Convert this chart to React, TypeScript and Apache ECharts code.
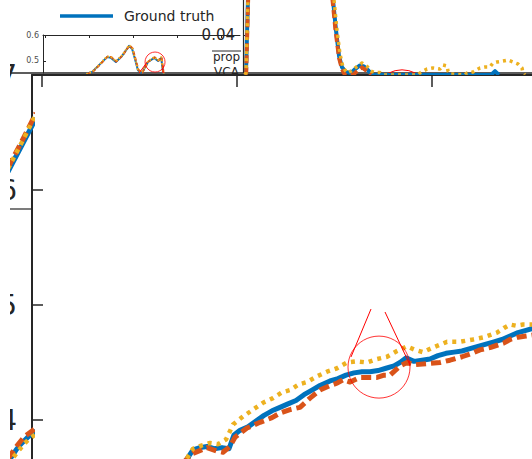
import React, { useEffect, useRef } from 'react';
import * as echarts from 'echarts';

const FONT = 'DejaVu Sans';
const AX = '#262626';
const BLUE = '#0072BD';
const ORANGE = '#D95319';
const YELLOW = '#EDB120';
const RED = '#FF0000';

const legendLabels = ['Ground truth'];
const seriesNames = ['Ground truth', 'VCA', 'prop'];

// axis ticks
const mainXTicks = [10, 205, 400];
const mainYTicks = [4, 5, 6, 7];
const insetXTicks = [1, 2, 3, 4, 5];
const insetYTicks = [0.5, 0.6];
const rightYTicks = [0.04];

// main panel curves [x, y]
const mainTruth = [[148,3.57],[161,3.74],[168,3.76],[175,3.77],[182,3.75],[190,3.76],[197,3.75],[202,3.87],[208,3.91],[216,3.94],[224,3.99],[232,4.04],[240,4.08],[248,4.11],[256,4.14],[264,4.17],[272,4.22],[280,4.26],[288,4.30],[298,4.34],[306,4.36],[314,4.39],[322,4.41],[330,4.42],[338,4.42],[346,4.43],[354,4.45],[362,4.47],[368,4.50],[374,4.54],[382,4.51],[390,4.52],[398,4.53],[406,4.56],[414,4.58],[422,4.59],[430,4.60],[438,4.62],[446,4.64],[454,4.66],[462,4.68],[470,4.70],[478,4.73],[486,4.76],[494,4.78],[502,4.80]];
const mainVCA = [[150,3.62],[161,3.71],[175,3.76],[185,3.73],[191,3.72],[198,3.77],[203,3.85],[215,3.93],[228,3.98],[240,4.02],[248,4.06],[258,4.09],[268,4.11],[278,4.19],[288,4.26],[298,4.30],[305,4.32],[311,4.35],[318,4.33],[328,4.37],[338,4.37],[345,4.37],[352,4.39],[358,4.39],[368,4.47],[375,4.50],[382,4.48],[395,4.49],[408,4.50],[418,4.52],[430,4.55],[440,4.58],[448,4.61],[458,4.63],[465,4.65],[472,4.67],[478,4.70],[486,4.72],[494,4.73],[502,4.74]];
const mainProp = [[150,3.60],[161,3.75],[170,3.78],[178,3.80],[186,3.79],[194,3.83],[201,3.96],[211,4.03],[221,4.09],[231,4.15],[241,4.19],[250,4.24],[258,4.26],[267,4.31],[275,4.33],[285,4.38],[295,4.42],[305,4.45],[315,4.50],[325,4.51],[335,4.50],[345,4.53],[355,4.55],[365,4.60],[375,4.64],[383,4.61],[391,4.59],[401,4.63],[415,4.68],[428,4.68],[441,4.70],[452,4.72],[465,4.76],[472,4.80],[478,4.83],[484,4.82],[491,4.83],[502,4.83]];
const mainZoomCircle = [[347, 4.46]];
const mainZoomLineL = [[339, 4.965], [319, 4.548]];
const mainZoomLineR = [[353, 4.939], [378, 4.478]];

// inset (top-left) curves
const insetTruth = [[1.93,0.45],[2.07,0.458],[2.25,0.488],[2.41,0.515],[2.5,0.512],[2.61,0.496],[2.75,0.519],[2.91,0.558],[2.98,0.546],[3.05,0.504],[3.11,0.465],[3.2,0.454],[3.34,0.496],[3.48,0.512],[3.57,0.5],[3.64,0.512],[3.68,0.458],[3.7,0.446]];
const insetVCA = [[1.95,0.45],[2.09,0.459],[2.27,0.490],[2.42,0.517],[2.51,0.514],[2.62,0.498],[2.76,0.521],[2.92,0.560],[2.99,0.548],[3.06,0.506],[3.12,0.466],[3.21,0.455],[3.35,0.498],[3.49,0.514],[3.58,0.502],[3.65,0.514],[3.69,0.459],[3.71,0.446]];
const insetProp = [[1.94,0.45],[2.08,0.460],[2.26,0.491],[2.41,0.518],[2.5,0.515],[2.61,0.499],[2.75,0.522],[2.91,0.561],[2.98,0.549],[3.05,0.507],[3.11,0.467],[3.2,0.456],[3.34,0.499],[3.48,0.515],[3.57,0.503],[3.64,0.515],[3.68,0.460],[3.7,0.446]];
const insetCircle = [[3.5, 0.496]];
const insetLineL = [[3.14, 0.454], [3.32, 0.496]];
const insetLineR = [[3.68, 0.454], [3.68, 0.481]];

// right (top) panel curves
const rightTruth = [[2,-0.002],[3,0],[5,0.08],[6,0.2],[60,0.3],[88,0.2],[90,0.077],[93,0.045],[96,0.018],[99,0.006],[103,0.001],[108,0],[112,0.004],[117,0.008],[121,0.007],[125,0.003],[129,-0.002],[248,-0.002],[252,0.002],[256,-0.002]];
const rightVCA = [[2,-0.002],[3.2,0],[5.2,0.08],[6,0.2],[60,0.3],[88,0.2],[89.5,0.077],[92.5,0.045],[96,0.016],[99,0.004],[102,-0.002],[110,-0.002],[115,0.003],[119,0.006],[124,0.002],[128,-0.002]];
const rightProp = [[2,-0.002],[3,0],[5,0.08],[6,0.2],[60,0.3],[88,0.2],[91,0.077],[94,0.045],[97,0.02],[100,0.006],[104,0],[108,0.002],[113,0.006],[119,0.0105],[124,0.007],[128,0.002],[132,0.0005],[137,0.0005],[141,-0.002],[175,-0.002],[177,0],[184,0.0042],[190,0.0053],[197,0.0042],[200,0.0084],[204,0.0074],[205,0.0021],[207,-0.001],[222,-0.002],[224,0],[230,0.001],[237,0.0053],[242,0.0063],[247,0.0063],[250,0.0105],[254,0.0116],[260,0.0126],[265,0.0137],[270,0.0116],[275,0.0095],[279,0.0053],[280,0],[282,-0.002]];

// left (hidden) panel curves
const leftTruthA = [[8,6.158],[12,6.226],[22,6.391],[32,6.557],[36,6.626]];
const leftVCAA = [[8,6.193],[12,6.261],[22,6.426],[32,6.600],[36,6.670]];
const leftPropA = [[8,6.184],[12,6.252],[22,6.417],[32,6.591],[36,6.66]];
const leftTruthB = [[8,3.635],[12,3.687],[16,3.739],[20,3.783],[24,3.817],[28,3.852],[32,3.878],[36,3.904]];
const leftVCAB = [[8,3.661],[12,3.713],[16,3.765],[20,3.809],[24,3.852],[28,3.878],[32,3.904],[36,3.93]];
const leftPropB = [[8,3.617],[12,3.661],[16,3.704],[20,3.748],[24,3.791],[28,3.826],[32,3.852],[36,3.88]];

function lineSeries(name: string, data: number[][], x: number, color: string, width: number, dash: any, z = 2) {
  return {
    type: 'line', name, data, xAxisIndex: x, yAxisIndex: x, symbol: 'none', silent: true, z,
    lineStyle: { color, width, type: dash, cap: 'butt', join: 'round' },
  };
}

export default function App() {
  const ref = useRef<HTMLDivElement>(null);
  useEffect(() => {
    if (!ref.current) return;
    const chart = echarts.init(ref.current, undefined, { renderer: 'svg' });
    const hidden = { show: false };
    const option: any = {
      animation: false,
      textStyle: { fontFamily: FONT },
      legend: {
        data: legendLabels, left: 60, top: 9, padding: 0, itemWidth: 53, itemHeight: 3.5, icon: 'rect',
        selectedMode: false,
        itemStyle: { color: BLUE },
        textStyle: { fontFamily: FONT, fontSize: 14, color: AX, padding: [0, 0, 0, 6] },
      },
      grid: [
        { left: 32, top: 75, width: 600, height: 690, outerBoundsMode: 'none', containLabel: false },
        { left: 43, top: 35, width: 197, height: 38, outerBoundsMode: 'none', containLabel: false },
        { left: 243, top: 0, width: 300, height: 73, outerBoundsMode: 'none', containLabel: false },
        { left: 0, top: 75, width: 32, height: 690, outerBoundsMode: 'none', containLabel: false },
      ],
      xAxis: [
        { type: 'value', gridIndex: 0, position: 'top', min: 0, max: 600,
          axisLine: { show: true, lineStyle: { color: AX, width: 2 } },
          axisTick: { show: true, inside: true, length: 12, customValues: mainXTicks, lineStyle: { color: AX, width: 1.5 } },
          axisLabel: hidden, splitLine: hidden },
        { type: 'value', gridIndex: 1, position: 'top', min: 0.9545, max: 5.43,
          axisLine: { show: true, lineStyle: { color: AX, width: 1 } },
          axisTick: { show: true, inside: true, length: 3, customValues: insetXTicks, lineStyle: { color: AX, width: 1 } },
          axisLabel: hidden, splitLine: hidden },
        { type: 'value', gridIndex: 2, min: 0, max: 300, show: false },
        { type: 'value', gridIndex: 3, min: 0, max: 32, show: false },
      ],
      yAxis: [
        { type: 'value', gridIndex: 0, min: 1, max: 7,
          axisLine: { show: true, lineStyle: { color: AX, width: 2 } },
          axisTick: { show: true, inside: true, length: 11, customValues: mainYTicks, lineStyle: { color: AX, width: 1.5 } },
          axisLabel: { show: true, customValues: mainYTicks, fontSize: 28, color: AX, margin: 15, fontFamily: FONT },
          splitLine: hidden },
        { type: 'value', gridIndex: 1, min: 0.4538, max: 0.6,
          axisLine: { show: true, lineStyle: { color: AX, width: 1 } },
          axisTick: { show: true, inside: true, length: 3, customValues: insetYTicks, lineStyle: { color: AX } },
          axisLabel: { show: true, customValues: insetYTicks, fontSize: 8, color: '#4d4d4d', margin: 4, fontFamily: FONT },
          splitLine: hidden },
        { type: 'value', gridIndex: 2, min: 0, max: 0.0768,
          axisLine: { show: true, lineStyle: { color: AX, width: 1.2 } },
          axisTick: { show: true, inside: true, length: 6, customValues: rightYTicks, lineStyle: { color: AX } },
          axisLabel: { show: true, customValues: rightYTicks, fontSize: 15, color: AX, margin: 8, fontFamily: FONT },
          splitLine: hidden },
        { type: 'value', gridIndex: 3, min: 1, max: 7, show: false },
      ],
      series: [
        lineSeries(seriesNames[0], mainTruth, 0, BLUE, 5, 'solid'),
        lineSeries(seriesNames[1], mainVCA, 0, ORANGE, 5, [10, 5]),
        lineSeries(seriesNames[2], mainProp, 0, YELLOW, 4.5, [4, 5]),
        lineSeries('zoom', mainZoomLineL, 0, RED, 1, 'solid', 5),
        lineSeries('zoom', mainZoomLineR, 0, RED, 1, 'solid', 5),
        { type: 'scatter', name: 'zoom', data: mainZoomCircle, xAxisIndex: 0, yAxisIndex: 0, symbol: 'circle', symbolSize: 62, silent: true, z: 5,
          itemStyle: { color: 'rgba(0,0,0,0)', borderColor: RED, borderWidth: 1 } },

        lineSeries(seriesNames[0], insetTruth, 1, BLUE, 2, 'solid'),
        lineSeries(seriesNames[1], insetVCA, 1, ORANGE, 2, [4, 2]),
        lineSeries(seriesNames[2], insetProp, 1, YELLOW, 2, [1.5, 2]),
        lineSeries('zoom', insetLineL, 1, RED, 1, 'solid', 5),
        lineSeries('zoom', insetLineR, 1, RED, 1, 'solid', 5),
        { type: 'scatter', name: 'zoom', data: insetCircle, xAxisIndex: 1, yAxisIndex: 1, symbol: 'circle', symbolSize: 20, silent: true, z: 5,
          itemStyle: { color: 'rgba(0,0,0,0)', borderColor: RED, borderWidth: 1 } },

        lineSeries(seriesNames[0], rightTruth, 2, BLUE, 4, 'solid'),
        lineSeries(seriesNames[1], rightVCA, 2, ORANGE, 4, [8, 4]),
        lineSeries(seriesNames[2], rightProp, 2, YELLOW, 3.5, [3, 4]),

        lineSeries(seriesNames[0], leftTruthA, 3, BLUE, 5, 'solid'),
        lineSeries(seriesNames[1], leftVCAA, 3, ORANGE, 5, [10, 5]),
        lineSeries(seriesNames[2], leftPropA, 3, YELLOW, 4.5, [4, 5]),
        lineSeries(seriesNames[0], leftTruthB, 3, BLUE, 5, 'solid'),
        lineSeries(seriesNames[1], leftVCAB, 3, ORANGE, 5, [10, 5]),
        lineSeries(seriesNames[2], leftPropB, 3, YELLOW, 4.5, [4, 5]),
      ],
      graphic: [
        { type: 'text', z: -2, x: 226.5, y: 57, style: { text: 'prop', fontSize: 12, fontFamily: FONT, fill: AX, align: 'center', verticalAlign: 'middle' } },
        { type: 'text', z: -2, x: 226.5, y: 66, style: { text: 'VCA', fontSize: 12, fontFamily: FONT, fill: AX, align: 'center', verticalAlign: 'top' } },
        { type: 'rect', z: -1, shape: { x: 205, y: 74, width: 31, height: 12 }, style: { fill: '#fff' } },
        { type: 'line', z: 1, shape: { x1: 212, y1: 51, x2: 241, y2: 51 }, style: { stroke: AX, lineWidth: 1 } },
        { type: 'line', z: 1, shape: { x1: 10, y1: 73, x2: 532, y2: 73 }, style: { stroke: AX, lineWidth: 1.5 } },
        { type: 'line', z: 1, shape: { x1: 10, y1: 209, x2: 32, y2: 209 }, style: { stroke: AX, lineWidth: 1.2 } },
        { type: 'arc', z: 1, shape: { cx: 402, cy: 101, r: 31, startAngle: -Math.PI / 2 - 0.46, endAngle: -Math.PI / 2 + 0.46, clockwise: true }, style: { stroke: RED, lineWidth: 1, fill: 'none' } },
        { type: 'rect', z: 100, shape: { x: 0, y: 0, width: 10, height: 459 }, style: { fill: '#fff' } },
      ],
    };
    chart.setOption(option);
    return () => chart.dispose();
  }, []);
  return <div ref={ref} style={{ position: 'fixed', left: 0, top: 0, width: 532, height: 459, background: '#fff' }} />;
}
